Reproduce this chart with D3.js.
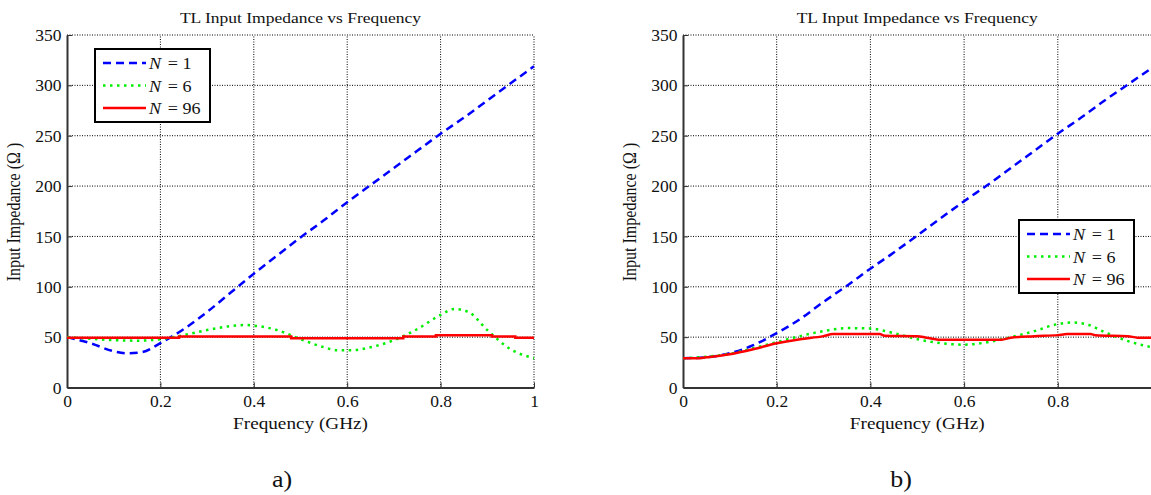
<!DOCTYPE html>
<html>
<head>
<meta charset="utf-8">
<script src="https://cdn.jsdelivr.net/npm/d3@7"></script>
<style>
  body { margin: 0; background: #fff; }
  svg { display: block; }
  text { font-family: "Liberation Serif", "Times New Roman", serif; fill: #111; }
</style>
</head>
<body>
<svg id="chart" width="1151" height="495"></svg>
<script>
// ---- data (frequency in GHz, impedance in ohm) ----
const yTicks = [0, 50, 100, 150, 200, 250, 300, 350];
const xTicksA = [0, 0.2, 0.4, 0.6, 0.8, 1];
const xTicksB = [0, 0.2, 0.4, 0.6, 0.8];
const legendNames = ['N', 'N', 'N'];
const legendValues = ['1', '6', '96'];

// panel a)
const a_N1 = [[0,50],[0.05,44],[0.1,36],[0.13,34],[0.16,35],[0.2,44],[0.25,58],[0.3,75],[0.35,94],[0.4,113],
  [0.45,131],[0.5,149],[0.55,166],[0.6,184],[0.65,201],[0.7,218],[0.75,235],[0.8,252],[0.85,268],[0.9,285],[0.95,302],[1.0,319]];
const a_N6 = [[0,50],[0.05,48.5],[0.1,47],[0.15,46.5],[0.2,48],[0.25,52],[0.3,57],[0.35,61],[0.38,62],[0.4,61.5],
  [0.45,57],[0.5,48],[0.55,40],[0.58,37],[0.61,37],[0.65,40],[0.7,47],[0.75,58],[0.8,72],[0.83,78],[0.86,75],[0.9,57],[0.95,38],[1.0,29]];
const a_N96 = [[0,49.5],[0.24,50.7],[0.48,49],[0.72,50.7],[0.79,51.8],[0.91,50.7],[0.96,49.5],[1.0,49.5]];

// panel b)
const b_N1 = [[0,29],[0.05,30],[0.1,34],[0.15,42],[0.2,54],[0.25,68],[0.3,85],[0.35,101],[0.4,118],[0.45,134],
  [0.5,151],[0.55,168],[0.6,185],[0.65,201],[0.7,218],[0.75,235],[0.8,252],[0.85,268],[0.9,285],[0.95,301],[1.0,317]];
const b_N6 = [[0,29],[0.05,30.5],[0.1,33.5],[0.15,39],[0.2,45],[0.25,51],[0.3,56],[0.35,59],[0.4,58.5],[0.45,54],
  [0.5,48],[0.55,44],[0.6,42.5],[0.65,45],[0.7,50],[0.75,56],[0.8,63],[0.83,64.5],[0.86,63],[0.9,55],[0.95,46],[1.0,40]];
const b_N96 = [[0,29],[0.03,29],[0.05,30],[0.1,33],[0.15,38],[0.2,44],[0.25,48],[0.3,51],[0.32,53],[0.42,53],[0.43,51.5],
  [0.5,51],[0.52,49.5],[0.55,47.5],[0.68,47.5],[0.7,49.5],[0.75,51],[0.8,52],[0.82,53],[0.87,53],[0.88,52],[0.95,51],[0.97,49.5],[1.0,49.5]];

const svg = d3.select('#chart');
const SX = 1.13; // the original figure is a bit wider than tall, text looks stretched

const styles = [
    {color: '#0000ff', dash: '8,5'},
    {color: '#00ee00', dash: '2.5,4.5'},
    {color: '#ff0000', dash: null}
];

function label(g, x, y, size, txt) {
    return g.append('text')
        .attr('transform', `translate(${x},${y}) scale(${SX},1)`)
        .attr('text-anchor', 'middle').style('font-size', size + 'px')
        .text(txt);
}

function drawPanel(opt) {
    const x = d3.scaleLinear().domain([0, 1]).range([opt.left, opt.right]);
    const y = d3.scaleLinear().domain([0, 350]).range([387.5, 35]);
    const g = svg.append('g');

    // grid
    g.selectAll('.gx').data(opt.xTicks.filter(d => d > 0)).join('line')
        .attr('x1', d => x(d)).attr('x2', d => x(d))
        .attr('y1', y(0)).attr('y2', y(350))
        .attr('stroke', '#000').attr('stroke-width', 1).attr('stroke-dasharray', '1,1.5');
    g.selectAll('.gy').data(yTicks.filter(d => d > 0)).join('line')
        .attr('x1', x(0)).attr('x2', opt.right)
        .attr('y1', d => y(d)).attr('y2', d => y(d))
        .attr('stroke', '#000').attr('stroke-width', 1).attr('stroke-dasharray', '1,1.5');

    // axes
    const xa = g.append('g').attr('transform', `translate(0,${y(0)})`)
        .call(d3.axisBottom(x).tickValues(opt.xTicks).tickFormat(d3.format('')).tickSize(-5).tickSizeOuter(0));
    const ya = g.append('g').attr('transform', `translate(${x(0)},0)`)
        .call(d3.axisLeft(y).tickValues(yTicks).tickSize(-5).tickSizeOuter(0));
    [xa, ya].forEach(a => {
        a.attr('font-family', '"Liberation Serif", serif').attr('font-size', 17.5);
        a.select('.domain').attr('stroke', '#333').attr('stroke-width', 2);
        a.selectAll('.tick line').attr('stroke', '#333');
        a.selectAll('text').attr('fill', '#111');
    });
    xa.selectAll('text').attr('y', 19.5).attr('dy', null);
    ya.selectAll('text').attr('x', -5.5);

    // curves
    const line = d3.line().x(d => x(d[0])).y(d => y(d[1])).curve(d3.curveMonotoneX);
    const step = d3.line().x(d => x(d[0])).y(d => y(d[1])).curve(d3.curveStepAfter);
    opt.series.forEach((s, i) => {
        g.append('path').datum(s)
            .attr('d', (i === 2 && opt.stepRed) ? step : line)
            .attr('fill', 'none')
            .attr('stroke', styles[i].color)
            .attr('stroke-width', 2.5)
            .attr('stroke-dasharray', styles[i].dash);
    });

    // titles
    const cx = (opt.left + opt.right) / 2;
    label(g, cx, 23, 15.5, 'TL Input Impedance vs Frequency');
    label(g, cx, 429, 17, 'Frequency (GHz)');
    g.append('text').attr('transform', `translate(${opt.ylabX},212) rotate(-90) scale(1,${SX})`)
        .attr('text-anchor', 'middle').style('font-size', '16px')
        .text('Input Impedance (\u03A9 )');
    label(g, opt.tagX, 487, 23, opt.tag);

    // legend
    const lg = g.append('g').attr('transform', `translate(${opt.legX},${opt.legY})`);
    lg.append('rect').attr('width', 115).attr('height', 73)
        .attr('fill', '#fff').attr('stroke', '#000').attr('stroke-width', 2);
    legendValues.forEach((v, i) => {
        const ry = 14 + i * 22.5;
        lg.append('line').attr('x1', 8).attr('x2', 51).attr('y1', ry).attr('y2', ry)
            .attr('stroke', styles[i].color).attr('stroke-width', 2.5)
            .attr('stroke-dasharray', styles[i].dash);
        const t = lg.append('text')
            .attr('transform', `translate(54,${ry + 6}) scale(${SX},1)`)
            .style('font-size', '16px');
        t.append('tspan').style('font-style', 'italic').text(legendNames[i]);
        t.append('tspan').attr('dx', 6).text('= ' + v);
    });
}

drawPanel({left: 67, right: 534, xTicks: xTicksA, series: [a_N1, a_N6, a_N96], stepRed: true,
    ylabX: 20, tagX: 282, tag: 'a)', legX: 95, legY: 49});
drawPanel({left: 683, right: 1151.5, xTicks: xTicksB, series: [b_N1, b_N6, b_N96], stepRed: false,
    ylabX: 636, tagX: 901, tag: 'b)', legX: 1019, legY: 220});
</script>
</body>
</html>
